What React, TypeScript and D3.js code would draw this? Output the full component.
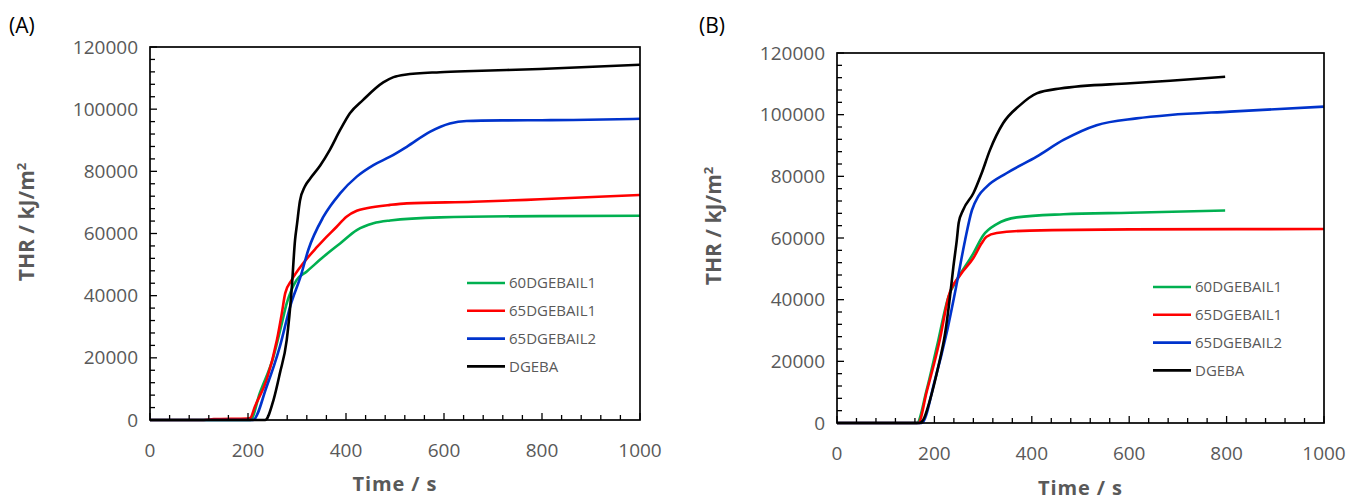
import React from "react";
import * as d3 from "d3";

type P = [number, number];

// Panel A series: [time s, THR kJ/m2]
const A_60DGEBAIL1: P[] = [[0,0],[205,0],[224,8600],[252,20400],[269,31100],[279,37500],[299,45000],[320,47800],[354,52500],[388,56800],[422,61100],[456,63300],[490,64200],[592,65200],[796,65600],[1000,65700]];
const A_65DGEBAIL1: P[] = [[0,0],[110,0],[130,300],[200,500],[205,700],[214,4300],[238,12900],[259,25700],[269,34300],[276,40800],[289,45000],[313,50500],[340,55500],[354,57900],[380,62000],[401,65400],[422,67300],[442,68100],[490,69200],[524,69700],[660,70200],[796,71000],[1000,72400]];
const A_65DGEBAIL2: P[] = [[0,0],[210,0],[238,10700],[265,23600],[286,36500],[308,46500],[323,54700],[354,65400],[388,72900],[422,78300],[456,82000],[490,84700],[524,87900],[571,92700],[612,95400],[646,96200],[728,96400],[864,96500],[1000,96900]];
const A_DGEBA: P[] = [[0,0],[235,0],[252,6400],[265,15000],[279,25700],[289,41800],[296,57900],[300,63000],[306,70500],[316,75100],[327,77700],[347,81800],[367,86900],[388,93300],[408,98700],[435,103000],[476,108600],[497,110300],[520,111100],[592,111900],[660,112300],[796,112900],[1000,114300]];

// Panel B series
const B_60DGEBAIL1: P[] = [[0,0],[164,0],[184,10700],[205,24700],[229,41000],[246,46400],[280,55000],[300,60800],[328,64500],[369,66700],[465,67700],[602,68200],[797,68900]];
const B_65DGEBAIL1: P[] = [[0,0],[167,0],[184,10000],[211,26900],[229,41000],[253,48000],[280,53500],[297,58300],[307,60400],[328,61600],[396,62400],[602,62800],[1000,62900]];
const B_65DGEBAIL2: P[] = [[0,0],[174,0],[201,13900],[225,29100],[246,45300],[263,59300],[277,69000],[290,73500],[307,76600],[348,81000],[410,86400],[465,91800],[533,96600],[615,98800],[684,99900],[807,101000],[1000,102600]];
const B_DGEBA: P[] = [[0,0],[170,0],[177,1000],[191,7500],[208,18300],[222,29100],[232,41000],[239,50700],[246,59300],[250,65000],[259,69100],[280,74500],[297,81000],[314,88500],[341,97200],[376,103100],[410,106900],[458,108500],[602,110200],[684,111000],[797,112300]];

const seriesNames = ["60DGEBAIL1", "65DGEBAIL1", "65DGEBAIL2", "DGEBA"];
const seriesColors = ["#00b050", "#ff0000", "#0033cc", "#000000"];
const xTickLabels = [0, 200, 400, 600, 800, 1000];
const yTickLabels = [0, 20000, 40000, 60000, 80000, 100000, 120000];

const GRAY = "#595959";
const FONT = "'Open Sans', 'Noto Sans', sans-serif";

interface PanelProps {
  label: string;
  data: P[][];
  left: number; right: number; top: number; bottom: number;
  labelX: number;
  yTitleX: number;
  yTitleY: number;
  xTitleY: number;
  xLabelY: number;
  legendX: number;
  legendY: number;
}

function Panel(p: PanelProps) {
  const x = d3.scaleLinear().domain([0, 1000]).range([p.left, p.right]);
  const y = d3.scaleLinear().domain([0, 120000]).range([p.bottom, p.top]);
  const line = d3.line<P>().x(d => x(d[0])).y(d => y(d[1])).curve(d3.curveMonotoneX);
  const xMinor = d3.range(0, 1001, 40);
  const yMinor = d3.range(0, 120001, 4000);
  return (
    <g>
      <text x={p.labelX} y={33} fontFamily={FONT} fontSize={21} fill="#000">{p.label}</text>
      {p.data.map((s, i) => (
        <path key={i} d={line(s) || ""} fill="none" stroke={seriesColors[i]} strokeWidth={2.6} strokeLinejoin="round" />
      ))}
      <rect x={p.left} y={p.top} width={p.right - p.left} height={p.bottom - p.top} fill="none" stroke="#000" strokeWidth={1.7} />
      {xMinor.map(t => (
        <line key={"xt" + t} x1={x(t)} x2={x(t)} y1={p.bottom} y2={p.bottom - (t % 200 === 0 ? 7 : 5)} stroke="#000" strokeWidth={1.3} />
      ))}
      {yMinor.map(v => (
        <line key={"yt" + v} x1={p.left} x2={p.left + (v % 20000 === 0 ? 7 : 5)} y1={y(v)} y2={y(v)} stroke="#000" strokeWidth={1.3} />
      ))}
      {xTickLabels.map(t => (
        <text key={"xl" + t} x={x(t)} y={p.xLabelY} textAnchor="middle" fontFamily={FONT} fontSize={19} fill={GRAY}>{t}</text>
      ))}
      {yTickLabels.map(v => (
        <text key={"yl" + v} x={p.left - 12} y={y(v)} dy="0.35em" textAnchor="end" fontFamily={FONT} fontSize={19} fill={GRAY}>{v}</text>
      ))}
      <text x={(p.left + p.right) / 2} y={p.xTitleY} textAnchor="middle" fontFamily={FONT} fontSize={20} letterSpacing={0.9} fontWeight="bold" fill={GRAY}>Time / s</text>
      <text transform={`translate(${p.yTitleX},${p.yTitleY}) rotate(-90)`} textAnchor="middle" fontFamily={FONT} fontSize={21} fontWeight="bold" fill={GRAY}>
        THR / kJ/m<tspan fontSize={13} dy={-8}>2</tspan>
      </text>
      {seriesNames.map((n, i) => (
        <g key={n} transform={`translate(${p.legendX},${p.legendY + i * 27.8})`}>
          <line x1={0} x2={38} y1={0} y2={0} stroke={seriesColors[i]} strokeWidth={2.6} />
          <text x={42} y={0} dy="0.35em" fontFamily={FONT} fontSize={15} fill={GRAY}>{n}</text>
        </g>
      ))}
    </g>
  );
}

export default function App() {
  return (
    <svg width={1349} height={500} style={{ position: "absolute", left: 0, top: 0, background: "#fff" }}>
      <rect x={0} y={0} width={1349} height={500} fill="#fff" />
      <Panel label="(A)" data={[A_60DGEBAIL1, A_65DGEBAIL1, A_65DGEBAIL2, A_DGEBA]}
        left={150} right={640} top={47} bottom={420} labelX={9}
        yTitleX={34} yTitleY={222} xTitleY={491} xLabelY={457}
        legendX={467} legendY={283} />
      <Panel label="(B)" data={[B_60DGEBAIL1, B_65DGEBAIL1, B_65DGEBAIL2, B_DGEBA]}
        left={837} right={1324} top={53} bottom={423} labelX={699}
        yTitleX={721} yTitleY={226} xTitleY={495} xLabelY={460}
        legendX={1153} legendY={287} />
    </svg>
  );
}
